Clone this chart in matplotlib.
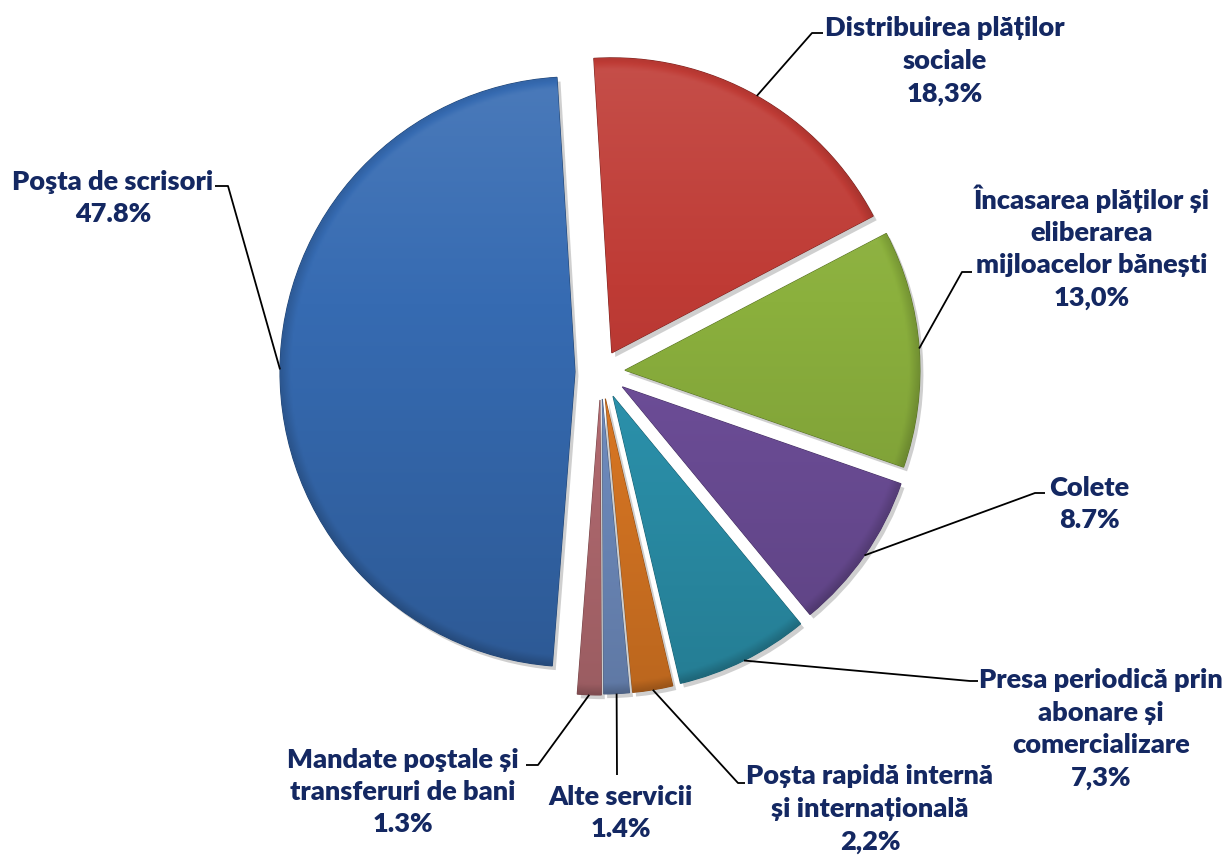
import numpy as np
import matplotlib
matplotlib.use("Agg")
import matplotlib.pyplot as plt
import matplotlib.patheffects as pe
from matplotlib.colors import to_rgb

# ---- data ----
categories = [
    "Distribuirea plăților\nsociale",
    "Încasarea plăților și\neliberarea\nmijloacelor bănești",
    "Colete",
    "Presa periodică prin\nabonare și\ncomercializare",
    "Poșta rapidă internă\nși internațională",
    "Alte servicii",
    "Mandate poştale și\ntransferuri de bani",
    "Poşta de scrisori",
]
values = [18.3, 13.0, 8.7, 7.3, 2.2, 1.4, 1.3, 47.8]
value_labels = ["18,3%", "13,0%", "8.7%", "7,3%", "2,2%", "1.4%", "1.3%", "47.8%"]

# ---- style ----
colors = ["#BF3B35", "#8BB03D", "#6F4F9B", "#2C95B0", "#DF7A24", "#7290C4", "#B86E74", "#366BB2"]
explode_px = [22, 24, 26, 27, 27, 27, 28, 26]
TEXT_COLOR = "#142862"
plt.rcParams['font.family'] = ['Lato', 'DejaVu Sans']

W, H = 1227, 859
fig = plt.figure(figsize=(W / 100, H / 100), dpi=100)
ax = fig.add_axes([0, 0, 1, 1])


def Y(yp):
    return H - yp


R = 295
center = (601, Y(372))
wedges, _ = ax.pie(values, colors=colors, explode=explode_px, startangle=93.5,
                   counterclock=False, radius=R, center=center,
                   wedgeprops=dict(linewidth=0.8))

for w, c in zip(wedges, colors):
    base = np.array(to_rgb(c))
    w.set_edgecolor(base * 0.65)
    w.set_path_effects([pe.SimplePatchShadow(offset=(2.5, -3), shadow_rgbFace='#777777', alpha=0.35),
                        pe.Normal()])
    cx, cy = w.center
    r = w.r
    n = 240
    xs = np.linspace(cx - r, cx + r, n)
    ys = np.linspace(cy + r, cy - r, n)
    XX, YY = np.meshgrid(xs, ys)
    d = np.hypot(XX - cx, YY - cy)
    t = (cy + r - YY) / (2 * r)  # 0 top -> 1 bottom
    f = 0.10 - 0.26 * t
    rim = np.clip((d - (r - 10)) / 10, 0, 1)
    f = f - 0.15 * rim
    img = np.empty((n, n, 3))
    for k in range(3):
        img[..., k] = np.where(f >= 0, base[k] + (1 - base[k]) * f, base[k] * (1 + f))
    im = ax.imshow(np.clip(img, 0, 1), extent=(cx - r, cx + r, cy - r, cy + r),
                   origin='upper', aspect='auto', zorder=w.get_zorder() + 0.1,
                   interpolation='bilinear')
    im.set_clip_path(w)

# ---- labels & leader lines ----
label_pos = [(945, 61), (1092, 247), (1089, 504), (1101, 729),
             (870, 809), (621, 813), (403, 792), (113, 198)]
leader_pts = [
    [(812, 33), (823, 33)],
    [(962, 272), (972, 272)],
    [(1035, 493), (1045, 493)],
    [(970, 681), (978, 681)],
    [(738, 783), (745, 783)],
    [(617, 775)],
    [(538, 765), (526, 765)],
    [(228, 186), (215, 186)],
]

for w, cat, vl, (lx, ly), pts in zip(wedges, categories, value_labels, label_pos, leader_pts):
    th = np.deg2rad((w.theta1 + w.theta2) / 2)
    ax0 = w.center[0] + w.r * np.cos(th)
    ay0 = w.center[1] + w.r * np.sin(th)
    xs = [ax0] + [p[0] for p in pts]
    ys = [ay0] + [Y(p[1]) for p in pts]
    ax.plot(xs, ys, color='black', lw=1.3, zorder=5, solid_capstyle='butt')
    ax.text(lx, Y(ly), cat + "\n" + vl, ha='center', va='center', ma='center',
            fontsize=19.5, fontweight='heavy', color=TEXT_COLOR, linespacing=1.42, zorder=6)

ax.set_xlim(0, W)
ax.set_ylim(0, H)
ax.set_aspect('auto')
ax.axis('off')
fig.savefig("out.png", dpi=100)
